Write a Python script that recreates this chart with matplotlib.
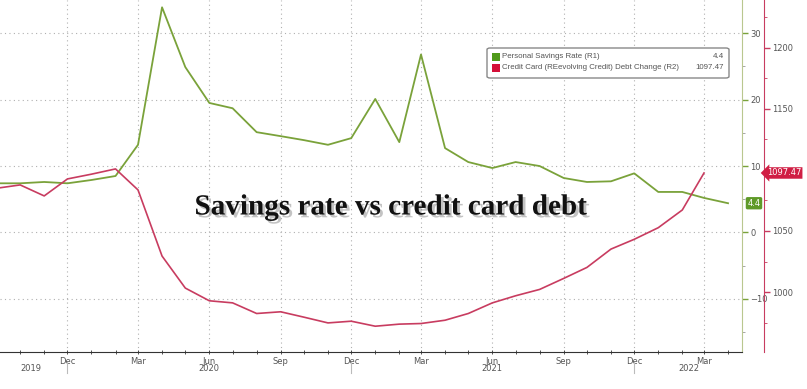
import numpy as np
import pandas as pd
import matplotlib
matplotlib.use("Agg")
import matplotlib.pyplot as plt
import matplotlib.dates as mdates
import matplotlib.patheffects as pe
from matplotlib.patches import FancyBboxPatch, Rectangle

# ---- data (monthly)
savings_dates = pd.date_range("2019-09-01", "2022-04-01", freq="MS")
savings_rate = [7.4, 7.4, 7.6, 7.4, 7.9, 8.5, 13.2, 33.9, 24.9, 19.5, 18.7, 15.1,
                14.5, 13.9, 13.2, 14.2, 20.1, 13.6, 26.8, 12.7, 10.6, 9.7, 10.6, 10.0,
                8.2, 7.6, 7.7, 8.9, 6.1, 6.1, 5.2, 4.4]

credit_dates = pd.date_range("2019-09-01", "2022-03-01", freq="MS")
credit_debt = [1085, 1087.7, 1078.7, 1092.6, 1096.5, 1100.8, 1083.6, 1029.5, 1003.3, 992.9,
               991.2, 982.5, 983.9, 979.5, 974.8, 976.2, 972.1, 973.8, 974.3, 977.0,
               982.5, 991.2, 997.0, 1002.2, 1011.2, 1020.2, 1035.2, 1043.2, 1052.7,
               1067.2, 1097.47]

green_ticks = [-10, 0, 10, 20, 30]
red_ticks = [1000, 1050, 1100, 1150, 1200]
red_tick_labels = ["1000", "1050", "", "1150", "1200"]   # 1100 sits under the value tag
year_labels = ["2019", "2020", "2021", "2022"]
year_label_dates = pd.to_datetime(["2019-10-15", "2020-06-01", "2021-06-01", "2022-02-10"])
year_sep_dates = pd.to_datetime(["2019-12-01", "2020-12-01", "2021-12-01"])

GREEN = "#7aa23a"
RED = "#c83c60"
TXT = "#555555"

W, H = 807, 389
fig = plt.figure(figsize=(W / 100, H / 100), dpi=100)
ax = fig.add_axes([0, (H - 352) / H, 742 / W, 352 / H])
ax2 = ax.twinx()

ax.plot(savings_dates, savings_rate, color=GREEN, lw=1.3, zorder=3)
ax2.plot(credit_dates, credit_debt, color=RED, lw=1.2, zorder=3)

ax.set_xlim(pd.Timestamp("2019-09-05"), pd.Timestamp("2022-04-19"))
ax.set_ylim(-18, 35)
ax2.set_ylim(951, 1239)

# x axis
ax.xaxis.set_major_locator(mdates.MonthLocator(bymonth=[3, 6, 9, 12]))
ax.xaxis.set_major_formatter(mdates.DateFormatter("%b"))
ax.xaxis.set_minor_locator(mdates.MonthLocator())
ax.tick_params(axis="x", which="both", direction="inout", length=3, width=0.6,
               color="#333333", labelsize=6, labelcolor=TXT, pad=2)

# green axis on the right
ax.yaxis.tick_right()
ax.set_yticks(green_ticks)
ax.set_yticks(np.arange(-15, 30, 10), minor=True)
ax.tick_params(axis="y", which="major", direction="out", length=4, width=1,
               color=GREEN, labelsize=6, labelcolor=TXT, pad=2)
ax.tick_params(axis="y", which="minor", direction="out", length=2, width=0.6,
               color="#999999")

# red axis further right
ax2.set_yticks(red_ticks)
ax2.set_yticklabels(red_tick_labels)
ax2.set_yticks(np.arange(975, 1240, 50), minor=True)
ax2.tick_params(axis="y", which="major", direction="out", length=4, width=1,
                color=RED, labelsize=6, labelcolor=TXT, pad=2)
ax2.tick_params(axis="y", which="minor", direction="out", length=2, width=0.6,
                color=RED)
ax2.spines["right"].set_position(("axes", 764 / 742))

for s in ["left", "top"]:
    ax.spines[s].set_visible(False)
for s in ["left", "top", "bottom"]:
    ax2.spines[s].set_visible(False)
ax.spines["right"].set_color("#b9c78f")
ax.spines["bottom"].set_color("#333333")
ax.spines["bottom"].set_linewidth(0.8)
ax2.spines["right"].set_color(RED)

ax.grid(True, which="major", color="#b0b0b0", linestyle=(0, (1, 3)), lw=0.8)

# year labels and separators under the axis
trans = ax.get_xaxis_transform()
for d, lab in zip(year_label_dates, year_labels):
    ax.text(d, -0.048, lab, transform=trans, ha="center", va="center",
            fontsize=6, color=TXT, clip_on=False)
for d in year_sep_dates:
    ax.plot([d, d], [-10 / 352, -21 / 352], transform=trans, color="#bbbbbb",
            lw=0.8, clip_on=False)

# last value tags
ax.annotate(f"{savings_rate[-1]:.1f}", xy=(1.0, savings_rate[-1]),
            xycoords=("axes fraction", "data"), xytext=(12, 0),
            textcoords="offset pixels", ha="center", va="center", fontsize=6,
            color="white", annotation_clip=False, zorder=6,
            bbox=dict(boxstyle="round,pad=0.2", fc="#5f9a28", ec="none"))
ax2.annotate(f"{credit_debt[-1]:.2f}", xy=(764 / 742, credit_debt[-1]),
             xycoords=("axes fraction", "data"), xytext=(20, 0),
             textcoords="offset pixels", ha="center", va="center", fontsize=6,
             color="white", annotation_clip=False, zorder=6,
             bbox=dict(boxstyle="larrow,pad=0.15", fc="#d01e44", ec="none"))

# legend box
def fx(x):
    return x / W

def fy(y):
    return 1 - y / H

box = FancyBboxPatch((fx(487), fy(78)), fx(242), 30 / H,
                     boxstyle="round,pad=0,rounding_size=0.004",
                     transform=fig.transFigure, fc="white", ec="#888888", lw=1, zorder=10)
fig.patches.append(box)
legend_rows = [("Personal Savings Rate (R1)", f"{savings_rate[-1]:.1f}", "#4f9a1a", 56.5),
               ("Credit Card (REevolving Credit) Debt Change (R2)", f"{credit_debt[-1]:.2f}",
                "#d41038", 67.5)]
for label, val, col, yy in legend_rows:
    fig.patches.append(Rectangle((fx(492), fy(yy + 4)), fx(8), 8 / H,
                                 transform=fig.transFigure, fc=col, ec="none", zorder=11))
    fig.text(fx(502), fy(yy), label, fontsize=5.7, family="Liberation Sans",
             color=TXT, va="center", zorder=12)
    fig.text(fx(724), fy(yy), val, fontsize=5.7, family="Liberation Sans",
             color=TXT, va="center", ha="right", zorder=12)

# title in the middle of the plot
ax.text(390 / 742, (352 - 207) / 352, "Savings rate vs credit card debt",
        transform=ax.transAxes, ha="center", va="center", fontsize=21,
        family="Liberation Serif", fontweight="bold", color="#111111", zorder=8,
        path_effects=[pe.SimplePatchShadow(offset=(2, -2), shadow_rgbFace="#888888",
                                           alpha=0.5), pe.Normal()])

fig.savefig("out.png", dpi=100)
